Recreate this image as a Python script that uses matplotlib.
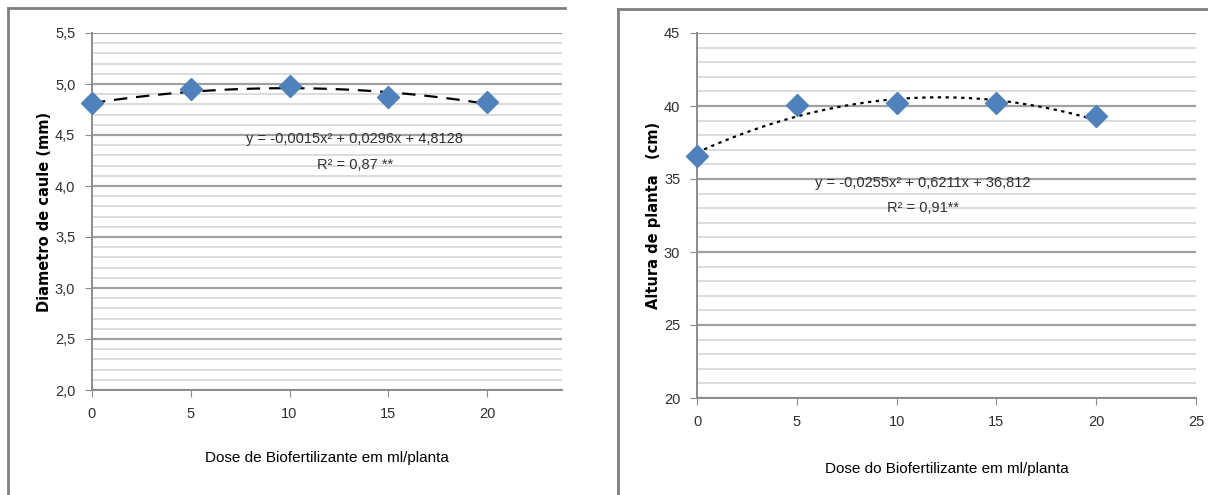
import matplotlib
matplotlib.use("Agg")
import matplotlib.pyplot as plt
import numpy as np
from matplotlib.lines import Line2D
from matplotlib.ticker import MultipleLocator

plt.rcParams['font.family'] = ['Liberation Sans Narrow', 'Liberation Sans', 'DejaVu Sans']

doses = [0, 5, 10, 15, 20]
diametro = [4.81, 4.95, 4.98, 4.87, 4.82]
altura = [36.6, 40.05, 40.2, 40.2, 39.3]

# trend line coefficients as printed on the chart (a, b, c for ax^2 + bx + c)
coef_diam = [-0.0015, 0.0296, 4.8128]
coef_alt = [-0.0255, 0.6211, 36.812]

eq_diam = "y = -0,0015x² + 0,0296x + 4,8128"
r2_diam = "R² = 0,87 **"
eq_alt = "y = -0,0255x² + 0,6211x + 36,812"
r2_alt = "R² = 0,91**"

W, H = 1208, 495
fig = plt.figure(figsize=(W / 100, H / 100), dpi=100)


def style_axes(ax, major, minor):
    ax.yaxis.set_major_locator(MultipleLocator(major))
    ax.yaxis.set_minor_locator(MultipleLocator(minor))
    ax.grid(which="major", axis="y", color="#a0a0a0", linewidth=1.6)
    ax.grid(which="minor", axis="y", color="#d6d6d6", linewidth=1.2)
    ax.set_axisbelow(True)
    for s in ["top", "right"]:
        ax.spines[s].set_visible(False)
    for s in ["left", "bottom"]:
        ax.spines[s].set_color("#8c8c8c")
        ax.spines[s].set_linewidth(1.4)
    ax.tick_params(which="major", direction="out", length=5, color="#8c8c8c",
                   labelsize=10.5, labelcolor="#303030", pad=7)
    ax.tick_params(which="minor", length=0)
    ax.xaxis.set_major_locator(MultipleLocator(5))


# left panel
ax1 = fig.add_axes([92 / W, 1 - 390 / H, 470 / W, 357 / H])
ax1.set_xlim(0, 470 / 19.75)
ax1.set_ylim(2.0, 5.5)
style_axes(ax1, 0.5, 0.1)
ax1.set_xticks(doses)
ax1.yaxis.set_major_formatter(lambda v, p: f"{v:.1f}".replace(".", ","))
xs = np.linspace(0, 20, 100)
ax1.plot(xs, np.polyval(coef_diam, xs), color="black", linewidth=1.6,
         linestyle=(0, (6, 4)), zorder=3)
ax1.plot(doses, diametro, linestyle="none", marker="D", markersize=11,
         color="#4f81bd", zorder=4, clip_on=False)
ax1.text(13.3, 4.46, eq_diam, ha="center", va="center", fontsize=10.5, color="#303030")
ax1.text(13.3, 4.21, r2_diam, ha="center", va="center", fontsize=10.5, color="#303030")
ax1.set_xlabel("Dose de Biofertilizante em ml/planta", fontsize=11, labelpad=22)
ax1.set_ylabel("Diametro de caule (mm)", fontsize=10.5, fontweight="bold",
               family=["DejaVu Sans"], labelpad=2)

# right panel
ax2 = fig.add_axes([697 / W, 1 - 398 / H, 499 / W, 365 / H])
ax2.set_xlim(0, 25)
ax2.set_ylim(20, 45)
style_axes(ax2, 5, 1)
ax2.plot(xs, np.polyval(coef_alt, xs), color="black", linewidth=1.6,
         linestyle=(0, (1.5, 2)), zorder=3)
ax2.plot(doses, altura, linestyle="none", marker="D", markersize=11,
         color="#4f81bd", zorder=4, clip_on=False)
ax2.text(11.3, 34.7, eq_alt, ha="center", va="center", fontsize=10.5, color="#303030")
ax2.text(11.3, 33.0, r2_alt, ha="center", va="center", fontsize=10.5, color="#303030")
ax2.set_xlabel("Dose do Biofertilizante em ml/planta", fontsize=11, labelpad=24)
ax2.set_ylabel("Altura de planta   (cm)", fontsize=10.5, fontweight="bold",
               family=["DejaVu Sans"], labelpad=2)

# panel frames
for xa, ya, xb, yb in [(8, 8, 565, 8), (8, 8, 8, 495), (618, 9, 1208, 9), (618, 9, 618, 495)]:
    fig.add_artist(Line2D([xa / W, xb / W], [1 - ya / H, 1 - yb / H],
                          color="#7f7f7f", linewidth=2))

fig.savefig("out.png", dpi=100)
